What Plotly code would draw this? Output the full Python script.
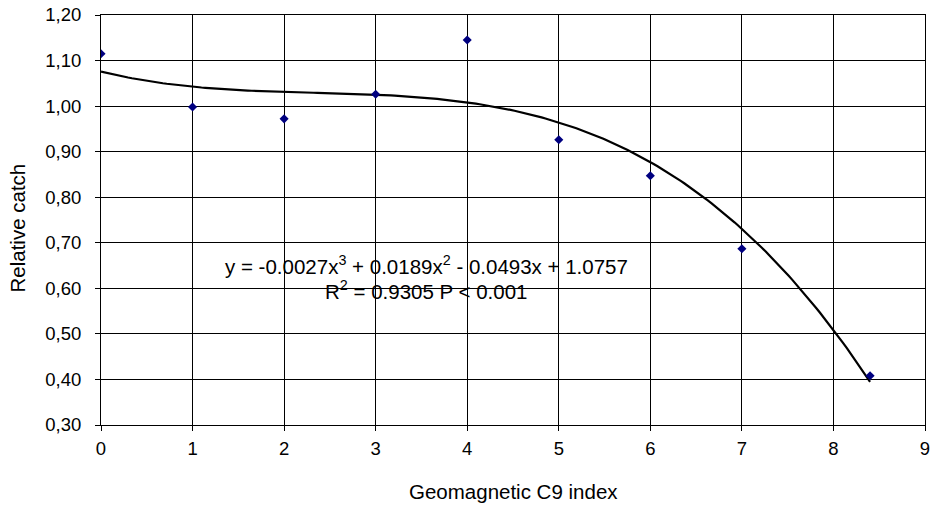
import numpy as np
import plotly.graph_objects as go

# Data
c9_index = [0, 1, 2, 3, 4, 5, 6, 7, 8.4]
relative_catch = [1.115, 0.998, 0.972, 1.026, 1.145, 0.926, 0.847, 0.687, 0.408]

# Trendline coefficients as printed on the chart (cubic, highest power first)
trend_coeffs = [-0.0027, 0.0189, -0.0493, 1.0757]

x_ticks = [0, 1, 2, 3, 4, 5, 6, 7, 8, 9]
y_ticks = [0.30, 0.40, 0.50, 0.60, 0.70, 0.80, 0.90, 1.00, 1.10, 1.20]
y_tick_labels = [f"{v:.2f}".replace(".", ",") for v in y_ticks]

xs = np.linspace(min(c9_index), max(c9_index), 200)
ys = np.polyval(trend_coeffs, xs)

font = "Liberation Sans, Arial, sans-serif"
fs_tick = 18.5
fs_text = 20.5

fig = go.Figure()
fig.add_trace(go.Scatter(x=xs, y=ys, mode="lines",
                         line=dict(color="black", width=2.2), hoverinfo="skip"))
fig.add_trace(go.Scatter(x=c9_index, y=relative_catch, mode="markers",
                         marker=dict(symbol="diamond", size=7, color="#000080")))

fig.add_annotation(x=3.55, y=0.651, xref="x", yref="y",
                   text="y = -0.0027x<sup>3</sup> + 0.0189x<sup>2</sup> - 0.0493x + 1.0757",
                   showarrow=False, font=dict(family=font, size=fs_text, color="black"))
fig.add_annotation(x=3.55, y=0.596, xref="x", yref="y",
                   text="R<sup>2</sup> = 0.9305 P < 0.001",
                   showarrow=False, font=dict(family=font, size=fs_text, color="black"))

# Axis titles
fig.add_annotation(x=0.5, y=0, xref="paper", yref="paper", yshift=-66,
                   xanchor="center", yanchor="middle",
                   text="Geomagnetic C9 index", showarrow=False,
                   font=dict(family=font, size=fs_text, color="black"))
fig.add_annotation(x=0, y=0.4805, xref="paper", yref="paper", xshift=-83.5,
                   xanchor="center", yanchor="middle", textangle=-90,
                   text="Relative catch", showarrow=False,
                   font=dict(family=font, size=fs_text, color="black"))

fig.update_layout(
    width=933, height=508,
    margin=dict(l=101, r=8, t=15, b=83, autoexpand=False),
    paper_bgcolor="white", plot_bgcolor="white",
    showlegend=False,
    font=dict(family=font, size=fs_tick, color="black"),
    xaxis=dict(range=[0, 9], tickvals=x_ticks, ticktext=[str(v) for v in x_ticks],
               showgrid=True, gridcolor="black", gridwidth=1,
               showline=True, linecolor="black", linewidth=1, mirror=True,
               ticks="outside", ticklen=5, tickcolor="black", zeroline=False,
               automargin=False,
               ticklabeloverflow="allow", ticklabelstandoff=2,
               tickfont=dict(family=font, size=fs_tick)),
    yaxis=dict(range=[0.30, 1.20], tickvals=y_ticks, ticktext=y_tick_labels,
               showgrid=True, gridcolor="black", gridwidth=1,
               showline=True, linecolor="black", linewidth=1, mirror=True,
               ticks="outside", ticklen=5, tickcolor="black", zeroline=False,
               automargin=False,
               ticklabeloverflow="allow", ticklabelstandoff=10,
               tickfont=dict(family=font, size=fs_tick)),
)

fig.write_html("out.html",
               config={"displayModeBar": False},
               post_script="document.body.style.margin='0';document.body.style.overflow='hidden';")
